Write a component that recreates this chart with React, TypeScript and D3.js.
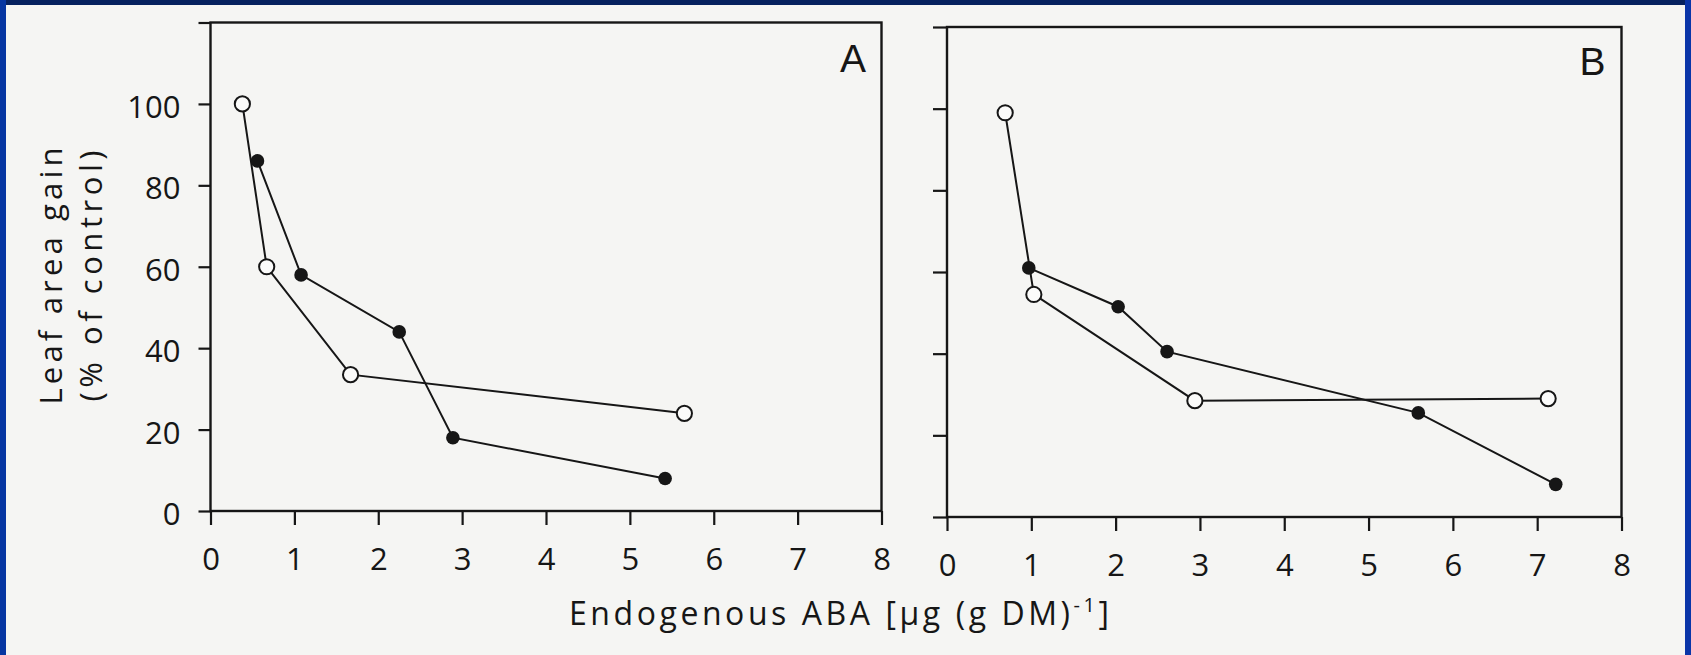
import React, { useEffect, useRef } from 'react';
import * as d3 from 'd3';

// axis ticks (shared by both panels)
const xTicks = [0, 1, 2, 3, 4, 5, 6, 7, 8];
const yTicks = [0, 20, 40, 60, 80, 100, 120];

// panel A
const aOpenX = [0.38, 0.67, 1.67, 5.65];
const aOpenY = [100, 60, 33.5, 24];
const aFilledX = [0.56, 1.08, 2.25, 2.89, 5.42];
const aFilledY = [86, 58, 44, 18, 8];

// panel B
const bOpenX = [0.69, 1.03, 2.94, 7.13];
const bOpenY = [99, 54.5, 28.5, 29];
const bFilledX = [0.97, 2.03, 2.61, 5.59, 7.22];
const bFilledY = [61, 51.5, 40.5, 25.5, 8];

const yTitle1 = 'Leaf area gain';
const yTitle2 = '(% of control)';

const INK = '#161616';
const PAPER = '#f5f5f3';
const FONT = '"Open Sans", "Noto Sans", sans-serif';

const zip = (xs: number[], ys: number[]) => xs.map((x, i) => [x, ys[i]] as [number, number]);

const App = () => {
  const ref = useRef<SVGSVGElement>(null);

  useEffect(() => {
    const svg = d3.select(ref.current);
    svg.selectAll('*').remove();

    svg.append('rect').attr('width', 1691).attr('height', 655).attr('fill', PAPER);
    // blue slide frame
    svg.append('rect').attr('x', 0).attr('y', 0).attr('width', 1691).attr('height', 5).attr('fill', '#06215f');
    svg.append('rect').attr('x', 0).attr('y', 0).attr('width', 6).attr('height', 655).attr('fill', '#0636a2');
    svg.append('rect').attr('x', 1685).attr('y', 0).attr('width', 6).attr('height', 655).attr('fill', '#0a35a8');

    const panels = [
      { name: 'A', open: zip(aOpenX, aOpenY), filled: zip(aFilledX, aFilledY),
        left: 210.5, right: 881.5, top: 22.5, bottom: 511, ytick: 12, labels: true, lx: 853, ly: 72 },
      { name: 'B', open: zip(bOpenX, bOpenY), filled: zip(bFilledX, bFilledY),
        left: 947, right: 1621.5, top: 27, bottom: 517, ytick: 14, labels: false, lx: 1592.5, ly: 75 },
    ];

    panels.forEach(p => {
      const x = d3.scaleLinear().domain([0, 8]).range([p.left, p.right]);
      const y = d3.scaleLinear().domain([0, 120]).range([p.bottom, p.top]);
      const g = svg.append('g');

      // y axis
      const ya = g.append('g')
        .attr('transform', `translate(${p.left},0)`)
        .call(d3.axisLeft(y).tickValues(yTicks).tickSize(p.ytick).tickSizeOuter(0)
          .tickFormat(d => (p.labels && +d < 120 ? String(d) : '')));
      ya.select('.domain').remove();
      ya.selectAll('line').attr('stroke', INK).attr('stroke-width', 2.2);
      ya.selectAll('text')
        .attr('x', -30)
        .attr('dy', 13.5)
        .attr('fill', INK)
        .style('font-family', FONT)
        .style('font-size', '31px');

      // x axis
      const xa = g.append('g')
        .attr('transform', `translate(0,${p.bottom})`)
        .call(d3.axisBottom(x).tickValues(xTicks).tickSize(14).tickSizeOuter(0).tickFormat(d => String(d)));
      xa.select('.domain').remove();
      xa.selectAll('line').attr('stroke', INK).attr('stroke-width', 2.2);
      xa.selectAll('text')
        .attr('y', 59)
        .attr('dy', 0)
        .attr('fill', INK)
        .style('font-family', FONT)
        .style('font-size', '31px');

      // frame
      g.append('rect')
        .attr('x', p.left).attr('y', p.top)
        .attr('width', p.right - p.left).attr('height', p.bottom - p.top)
        .attr('fill', 'none').attr('stroke', INK).attr('stroke-width', 2.4);

      g.append('text')
        .attr('x', p.lx).attr('y', p.ly)
        .attr('text-anchor', 'middle')
        .attr('fill', INK)
        .style('font-family', '"Liberation Sans", Arial, sans-serif')
        .style('font-size', '39px')
        .text(p.name);

      const line = d3.line<[number, number]>().x(d => x(d[0])).y(d => y(d[1]));
      [p.filled, p.open].forEach(s => {
        g.append('path').attr('d', line(s)).attr('fill', 'none')
          .attr('stroke', INK).attr('stroke-width', 2);
      });

      g.selectAll('.filled')
        .data(p.filled).enter().append('circle')
        .attr('cx', d => x(d[0])).attr('cy', d => y(d[1]))
        .attr('r', 6.8).attr('fill', INK);

      g.selectAll('.open')
        .data(p.open).enter().append('circle')
        .attr('cx', d => x(d[0])).attr('cy', d => y(d[1]))
        .attr('r', 7.6).attr('fill', '#fbfbfa').attr('stroke', INK).attr('stroke-width', 2);
    });

    // y title, two rotated lines
    [[yTitle1, 62, 257], [yTitle2, 102, 251]].forEach(([t, bx, len]) => {
      svg.append('text')
        .attr('transform', `translate(${bx},276) rotate(-90)`)
        .attr('text-anchor', 'middle')
        .attr('textLength', len as number)
        .attr('lengthAdjust', 'spacing')
        .attr('fill', INK)
        .style('font-family', FONT)
        .style('font-size', '31px')
        .text(t as string);
    });

    // x title
    const xt = svg.append('text')
      .attr('x', 569).attr('y', 625)
      .attr('textLength', 540)
      .attr('lengthAdjust', 'spacing')
      .attr('fill', INK)
      .style('font-family', FONT)
      .style('font-size', '32px');
    xt.append('tspan').text('Endogenous ABA [\u03bcg (g DM)');
    xt.append('tspan').attr('dy', -13).style('font-size', '20px').text('-1');
    xt.append('tspan').attr('dy', 13).text(']');
  }, []);

  return (
    <svg ref={ref} width={1691} height={655}
      style={{ position: 'fixed', left: 0, top: 0, display: 'block' }} />
  );
};

export default App;
